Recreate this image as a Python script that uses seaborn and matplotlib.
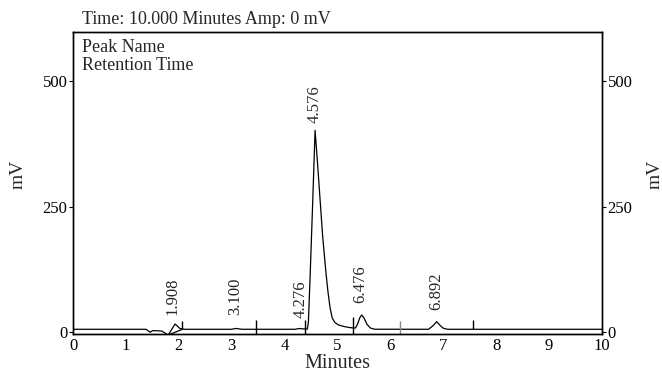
import matplotlib
matplotlib.use("Agg")
import matplotlib.pyplot as plt
import seaborn as sns
import pandas as pd

# ---- data ----
time_min = [0.00, 1.38, 1.46, 1.50, 1.57, 1.68, 1.80, 1.93, 2.02, 2.10,
            3.00, 3.05, 3.08, 3.12, 3.20,
            4.20, 4.25, 4.28, 4.31, 4.38, 4.43, 4.45, 4.48, 4.53, 4.576,
            4.62, 4.67, 4.72, 4.78, 4.82, 4.86, 4.90, 4.95, 5.02, 5.12, 5.22, 5.30,
            5.34, 5.38, 5.42, 5.457, 5.50, 5.56, 5.62, 5.70,
            6.72, 6.80, 6.875, 6.94, 7.00, 7.08, 10.00]
signal_mv = [5.4, 5.4, -0.6, 2.6, 2.6, 1.8, -6.0, 16.0, 7.0, 5.4,
             5.4, 6.5, 7.0, 6.5, 5.4,
             5.4, 6.5, 7.0, 6.5, 6.0, 6.0, 20.0, 104.0, 255.0, 402.0,
             340.0, 265.0, 190.0, 120.0, 80.0, 48.0, 28.0, 19.0, 14.0, 11.0, 9.0, 8.0,
             8.0, 16.0, 28.0, 34.0, 28.0, 15.0, 8.0, 5.5,
             5.4, 12.0, 20.5, 13.0, 7.5, 5.4, 5.4]

peak_labels = ["1.908", "3.100", "4.276", "4.576", "6.476", "6.892"]
peak_label_t = [1.89, 3.06, 4.30, 4.575, 5.43, 6.86]
peak_label_mv = [34, 34, 28, 416, 58, 44]

event_t_dark = [2.06, 3.46, 4.39, 5.30, 7.56]
event_lo_dark = [5, -4, -4, -4, 5]
event_hi_dark = [22, 24, 24, 30, 24]
event_t_gray = [6.18]
event_lo_gray = [-4]
event_hi_gray = [22]

int_base_t = [1.80, 2.06]
int_base_mv = [-6.0, 5.0]

x_ticks = list(range(0, 11))
y_ticks = [0, 250, 500]

sns.set_theme(style="white")
plt.rcParams["font.family"] = ["Liberation Serif", "DejaVu Serif"]

fig = plt.figure(figsize=(6.62, 3.78), dpi=100)
ax = fig.add_axes([73/662, 1-334/378, 529/662, 302/378])

df = pd.DataFrame({"Minutes": time_min, "mV": signal_mv})
sns.lineplot(data=df, x="Minutes", y="mV", ax=ax, color="black", lw=0.9,
             estimator=None, sort=False)
ax.plot(int_base_t, int_base_mv, color="black", lw=0.9)

ax.vlines(event_t_dark, event_lo_dark, event_hi_dark, color="black", lw=1.0)
ax.vlines(event_t_gray, event_lo_gray, event_hi_gray, color="#888888", lw=1.0)

for lab, t, y in zip(peak_labels, peak_label_t, peak_label_mv):
    ax.text(t, y, lab, rotation=90, ha="center", va="bottom", fontsize=12)

ax.set_xlim(0, 10)
ax.set_ylim(-4, 598)
ax.set_xticks(x_ticks)
ax.set_yticks(y_ticks)
ax.tick_params(axis="both", labelsize=12, length=3, width=0.8, direction="out",
               pad=1, colors="black")
ax.tick_params(axis="x", length=2, pad=1)
ax.set_xlabel("Minutes", fontsize=14.5, labelpad=0)
ax.set_ylabel("")
for s in ax.spines.values():
    s.set_color("black")
    s.set_linewidth(1.0)

ax2 = ax.twinx()
ax2.set_ylim(ax.get_ylim())
ax2.set_yticks(y_ticks)
ax2.tick_params(axis="y", labelsize=12, length=3, width=0.8, pad=1, colors="black")
for s in ax2.spines.values():
    s.set_color("black")
    s.set_linewidth(1.0)
ax2.grid(False)
ax.grid(False)

fig.text(18/662, 1-174/378, "mV", rotation=90, ha="center", va="center", fontsize=14)
fig.text(655/662, 1-174/378, "mV", rotation=90, ha="center", va="center", fontsize=14)
fig.text(82/662, 1-20/378, "Time: 10.000 Minutes Amp: 0 mV", ha="left", va="center", fontsize=13)
ax.text(9/529, 1-15/302, "Peak Name", transform=ax.transAxes, ha="left", va="center", fontsize=13)
ax.text(9/529, 1-34/302, "Retention Time", transform=ax.transAxes, ha="left", va="center", fontsize=13)

fig.savefig("out.png", dpi=100)
